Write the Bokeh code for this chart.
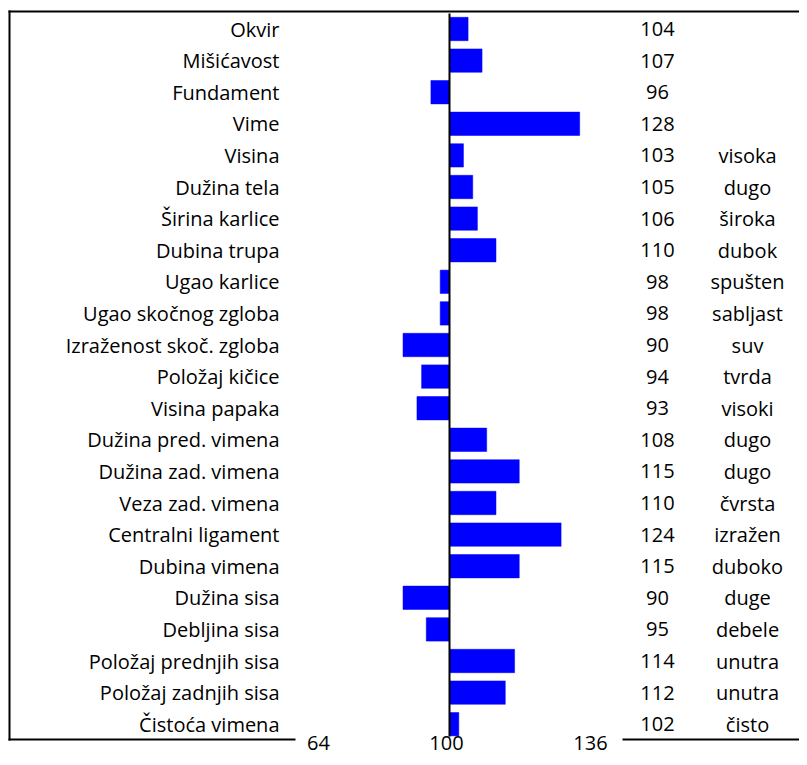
from bokeh.plotting import figure
from bokeh.models import Range1d, ColumnDataSource
from bokeh.core.properties import value
from bokeh.embed import file_html
from bokeh.resources import INLINE

traits = ["Okvir", "Mišićavost", "Fundament", "Vime", "Visina", "Dužina tela",
          "Širina karlice", "Dubina trupa", "Ugao karlice", "Ugao skočnog zgloba",
          "Izraženost skoč. zgloba", "Položaj kičice", "Visina papaka",
          "Dužina pred. vimena", "Dužina zad. vimena", "Veza zad. vimena",
          "Centralni ligament", "Dubina vimena", "Dužina sisa", "Debljina sisa",
          "Položaj prednjih sisa", "Položaj zadnjih sisa", "Čistoća vimena"]
values = [104, 107, 96, 128, 103, 105, 106, 110, 98, 98, 90, 94, 93, 108, 115,
          110, 124, 115, 90, 95, 114, 112, 102]
descriptions = ["", "", "", "", "visoka", "dugo", "široka", "dubok", "spušten",
                "sabljast", "suv", "tvrda", "visoki", "dugo", "dugo", "čvrsta",
                "izražen", "duboko", "duge", "debele", "unutra", "unutra", "čisto"]
tick_labels = ["64", "100", "136"]
base = 100

W, H = 799, 757
PX_PER_UNIT = 4.65
ZERO_PX = 449.0          # x pixel of base value
ROW_PX = 31.6
ROW0_PX = 28.5           # y pixel of first row centre

def px2x(px):
    return base + (px - ZERO_PX) / PX_PER_UNIT

def py2y(py):
    return (py - ROW0_PX) / ROW_PX

x0, x1 = px2x(0), px2x(W)
y_top, y_bot = py2y(0), py2y(H)

p = figure(width=W, height=H, output_backend="svg", toolbar_location=None,
           x_range=Range1d(x0, x1), y_range=Range1d(y_bot, y_top),
           min_border=0, min_border_left=0, min_border_right=0,
           min_border_top=0, min_border_bottom=0)
p.axis.visible = False
p.grid.visible = False
p.outline_line_color = None
p.background_fill_color = "white"
p.border_fill_color = "white"

rows = list(range(len(traits)))
src = ColumnDataSource(dict(y=rows, v=values, base=[base] * len(rows),
                            trait=traits, num=[str(v) for v in values],
                            desc=descriptions))

p.hbar(y="y", left="base", right="v", height=0.74, source=src,
       fill_color="#0000FF", line_color="#0000FF", line_width=0.5)

# zero line
p.segment(x0=[base], x1=[base], y0=[py2y(13)], y1=[py2y(736)],
          line_color="black", line_width=2)

font = value("Open Sans")
fs = "20px"
p.text(x=px2x(279), y="y", text="trait", source=src, text_font=font,
       text_font_size=fs, text_align="right", text_baseline="middle",
       text_color="black")
p.text(x=px2x(657), y="y", text="num", source=src, text_font=font,
       text_font_size=fs, text_align="center", text_baseline="middle",
       text_color="black")
p.text(x=px2x(747), y="y", text="desc", source=src, text_font=font,
       text_font_size=fs, text_align="center", text_baseline="middle",
       text_color="black")

# bottom labels
p.text(x=[px2x(318), px2x(446), px2x(590)], y=[py2y(742)] * 3,
       text=tick_labels, text_font=font, text_font_size=fs,
       text_align="center", text_baseline="middle", text_color="black")

# frame lines
p.segment(x0=[px2x(9), px2x(8), px2x(8), px2x(622)],
          x1=[px2x(9), px2x(W), px2x(295), px2x(W)],
          y0=[py2y(10), py2y(11), py2y(739), py2y(739)],
          y1=[py2y(740), py2y(11), py2y(739), py2y(739)],
          line_color="black", line_width=2)

open("out.html", "w").write(file_html(p, INLINE))
